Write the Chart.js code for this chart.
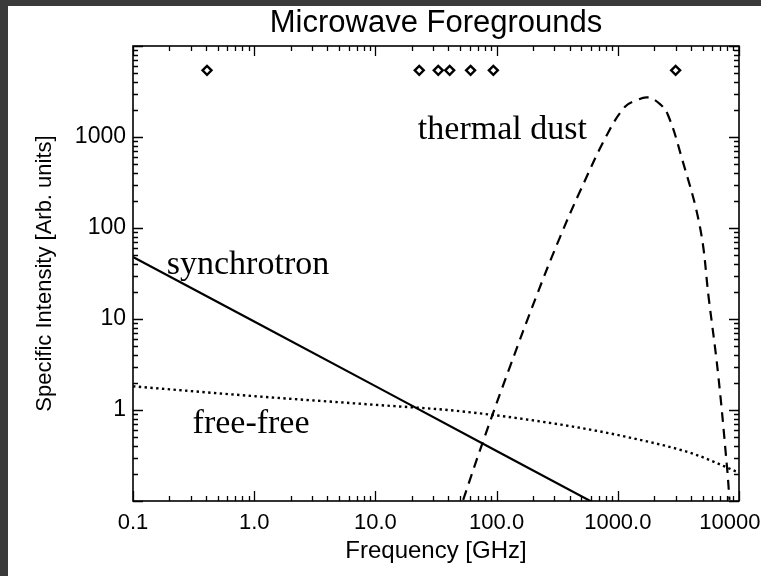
<!DOCTYPE html>
<html>
<head>
<meta charset="utf-8">
<title>Microwave Foregrounds</title>
<script src="https://cdn.jsdelivr.net/npm/chart.js@4/dist/chart.umd.min.js"></script>
<style>
  html, body { margin: 0; padding: 0; background: #3a3a3a; }
  .frame { position: absolute; left: 8px; top: 6px; width: 753px; height: 570px; background: #fff; }
</style>
</head>
<body>
<div class="frame"><canvas id="fgChart"></canvas></div>
<script>
// Frequencies in GHz, intensities in arbitrary units
const syncFreq = [0.1, 1, 10, 100, 1000];
const syncVals = [48, 9.4, 1.83, 0.355, 0.069];

const ffFreq = [0.1, 1, 10, 50, 340, 1190, 4250, 10000];
const ffVals = [1.82, 1.42, 1.14, 0.97, 0.69, 0.505, 0.328, 0.205];

const dustFreq = [53, 77, 129, 215, 333, 488, 815, 1146, 1413, 1775, 2230, 2594, 3318, 4760, 5650, 6710, 7960, 8350];
const dustVals = [0.103, 0.445, 3.0, 18.4, 79, 253, 1060, 2150, 2520, 2720, 2300, 1745, 634, 103, 16.2, 2.55, 0.237, 0.103];

// observing bands marked with diamonds
const bandFreq = [0.408, 23, 33, 41, 61, 94, 3000];
const bandVals = [5400, 5400, 5400, 5400, 5400, 5400, 5400];

const xMajor = [0.1, 1, 10, 100, 1000, 10000];
const xTickLabels = ['0.1', '1.0', '10.0', '100.0', '1000.0', '10000.0'];
const yMajor = [1, 10, 100, 1000];
const yTickLabels = ['1', '10', '100', '1000'];

const notes = [
  { text: 'synchrotron', f: 0.19, v: 31 },
  { text: 'thermal dust', f: 22.4, v: 950 },
  { text: 'free-free', f: 0.31, v: 0.56 }
];

const sans = '"Liberation Sans", Arial, Helvetica, sans-serif';
const serif = '"Liberation Serif", "Times New Roman", serif';

function pts(xs, ys) {
  return xs.map((x, i) => ({ x: x, y: ys[i] }));
}

// inward ticks on all four sides + box, curve labels and title
const frameTicks = {
  id: 'frameTicks',
  afterDraw(chart) {
    const { ctx, chartArea: a, scales: { x, y } } = chart;
    ctx.save();
    ctx.strokeStyle = '#000';
    ctx.lineWidth = 1.6;
    ctx.strokeRect(a.left, a.top, a.right - a.left, a.bottom - a.top);

    ctx.lineWidth = 1.3;
    ctx.beginPath();
    for (let d = 0; d < xMajor.length; d++) {
      for (let m = 1; m <= 9; m++) {
        const v = xMajor[d] * m;
        if (v > x.max * 1.0001) break;
        const len = m === 1 ? 10 : 5;
        const px = Math.round(x.getPixelForValue(v)) + 0.5;
        ctx.moveTo(px, a.bottom); ctx.lineTo(px, a.bottom - len);
        ctx.moveTo(px, a.top); ctx.lineTo(px, a.top + len);
        if (v <= y.max * 1.0001) {
          const py = Math.round(y.getPixelForValue(v)) + 0.5;
          ctx.moveTo(a.left, py); ctx.lineTo(a.left + len, py);
          ctx.moveTo(a.right, py); ctx.lineTo(a.right - len, py);
        }
      }
    }
    ctx.stroke();

    ctx.fillStyle = '#000';
    ctx.font = '34px ' + serif;
    ctx.textBaseline = 'alphabetic';
    ctx.textAlign = 'left';
    notes.forEach(n => {
      ctx.fillText(n.text, x.getPixelForValue(n.f), y.getPixelForValue(n.v));
    });

    ctx.font = '31px ' + sans;
    ctx.textAlign = 'center';
    ctx.textBaseline = 'middle';
    ctx.fillText('Microwave Foregrounds', (a.left + a.right) / 2, 17);
    ctx.restore();
  }
};

new Chart(document.getElementById('fgChart'), {
  type: 'line',
  data: {
    datasets: [
      {
        label: 'synchrotron',
        data: pts(syncFreq, syncVals),
        borderColor: '#000',
        borderWidth: 2.2,
        pointRadius: 0
      },
      {
        label: 'free-free',
        data: pts(ffFreq, ffVals),
        borderColor: '#000',
        borderWidth: 2.4,
        borderDash: [2.4, 3.4],
        pointRadius: 0,
        cubicInterpolationMode: 'monotone'
      },
      {
        label: 'thermal dust',
        data: pts(dustFreq, dustVals),
        borderColor: '#000',
        borderWidth: 2.2,
        borderDash: [10, 7],
        pointRadius: 0,
        tension: 0.4
      },
      {
        label: 'bands',
        data: pts(bandFreq, bandVals),
        showLine: false,
        pointStyle: 'rectRot',
        pointRadius: 4.5,
        pointBorderWidth: 2.4,
        pointBorderColor: '#000',
        pointBackgroundColor: '#fff'
      }
    ]
  },
  options: {
    responsive: true,
    maintainAspectRatio: false,
    animation: false,
    layout: { padding: { top: 40, right: 22, left: 0, bottom: 0 } },
    plugins: {
      legend: { display: false },
      tooltip: { enabled: false }
    },
    scales: {
      x: {
        type: 'logarithmic',
        min: 0.1,
        max: 10000,
        grid: { display: false, drawTicks: false },
        border: { display: false },
        afterBuildTicks: s => { s.ticks = xMajor.map(v => ({ value: v })); },
        afterFit: s => { s.height = 75; s.paddingLeft = 0; s.paddingRight = 0; },
        ticks: {
          autoSkip: false,
          maxRotation: 0,
          padding: 9,
          color: '#000',
          font: { family: sans, size: 22 },
          callback: (v, i) => xTickLabels[i]
        },
        title: {
          display: true,
          text: 'Frequency [GHz]',
          color: '#000',
          font: { family: sans, size: 24 },
          padding: { top: 0, bottom: 10 }
        }
      },
      y: {
        type: 'logarithmic',
        min: 0.1,
        max: 10000,
        grid: { display: false, drawTicks: false },
        border: { display: false },
        afterBuildTicks: s => { s.ticks = yMajor.map(v => ({ value: v })); },
        afterFit: s => { s.width = 125; s.paddingTop = 0; s.paddingBottom = 0; },
        ticks: {
          autoSkip: false,
          padding: 7,
          color: '#000',
          font: { family: sans, size: 23 },
          callback: (v, i) => yTickLabels[i]
        },
        title: {
          display: true,
          text: 'Specific Intensity [Arb. units]',
          color: '#000',
          font: { family: sans, size: 22 },
          padding: { top: 24, bottom: 0 }
        }
      }
    }
  },
  plugins: [frameTicks]
});
</script>
</body>
</html>
